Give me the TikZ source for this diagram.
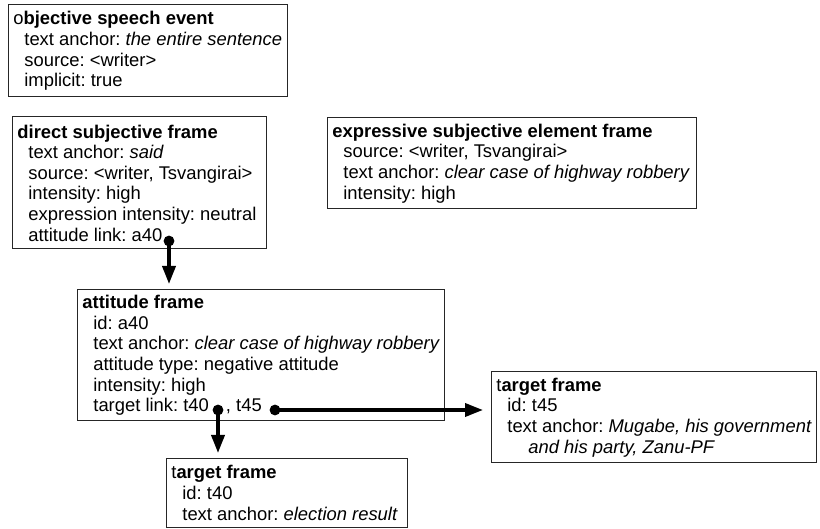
\documentclass[tikz,border=0pt]{standalone}
\usepackage{fontspec}
\setmainfont{Liberation Sans}
\usetikzlibrary{arrows.meta}

\newcommand{\frameFont}{\fontsize{9.2}{10.3}\selectfont\frenchspacing}
\newcommand{\ind}{\hspace*{5.5pt}}
\newcommand{\drawFrame}[6]{
    \node[framebox, minimum width={(#4-#2)*0.5pt}, minimum height={(#5-#3)*0.5pt}] (#1) at (#2,#3) {};
    \node[frametext] (#1-t) at (#1.west) {#6};
}
\tikzset{
    framebox/.style={draw=black!85, line width=0.5pt, anchor=north west, inner sep=0pt, outer sep=0pt},
    frametext/.style={anchor=west, align=left, inner sep=0pt, xshift=2.5pt, font=\frameFont},
    link/.style={line width=1.8pt, -{Triangle[length=9pt,width=6.5pt]}, shorten >=3pt},
    linkdot/.style={fill=black}
}

\begin{document}
\begin{tikzpicture}[x=0.5pt,y=-0.5pt]
\useasboundingbox (0,0) rectangle (820,529);

% Speech event and the two subjective frames
\drawFrame{ose}{8}{5}{287}{97}{o\textbf{bjective speech event}\\
    \ind text anchor: \textit{the entire sentence}\\
    \ind source: <writer>\\
    \ind implicit: true}
\drawFrame{dsf}{12}{117}{266}{249}{\textbf{direct subjective frame}\\
    \ind text anchor: \textit{said}\\
    \ind source: <writer, Tsvangirai>\\
    \ind intensity: high\\
    \ind expression intensity: neutral\\
    \ind attitude link: a40}
\drawFrame{ese}{327}{118}{696}{209}{\textbf{expressive subjective element frame}\\
    \ind source: <writer, Tsvangirai>\\
    \ind text anchor: \textit{clear case of highway robbery}\\
    \ind intensity: high}

% Attitude frame
\drawFrame{att}{77}{290}{444}{421}{\textbf{attitude frame}\\
    \ind id: a40\\
    \ind text anchor: \textit{clear case of highway robbery}\\
    \ind attitude type: negative attitude\\
    \ind intensity: high\\
    \ind target link: t40\hspace{8.5pt}, t45}

% Target frames
\drawFrame{tgtA}{166}{459}{407}{527}{t\textbf{arget frame}\\
    \ind id: t40\\
    \ind text anchor: \textit{election result}}
\drawFrame{tgtB}{491}{372}{816}{463}{t\textbf{arget frame}\\
    \ind id: t45\\
    \ind text anchor: \textit{Mugabe, his government}\\
    \ind\hspace*{10.5pt}\textit{and his party, Zanu-PF}}

% Links
\coordinate (a40) at (169,241);
\coordinate (t40) at (218,410);
\coordinate (t45) at (275,410);
\foreach \d in {a40,t40,t45}
    \fill[linkdot] (\d) circle (2.7pt);
\draw[link] (a40) -- (a40 |- att.north);
\draw[link] (t40) -- (t40 |- tgtA.north);
\draw[link, shorten >=4pt] (t45) -- (t45 -| tgtB.west);

\end{tikzpicture}
\end{document}
